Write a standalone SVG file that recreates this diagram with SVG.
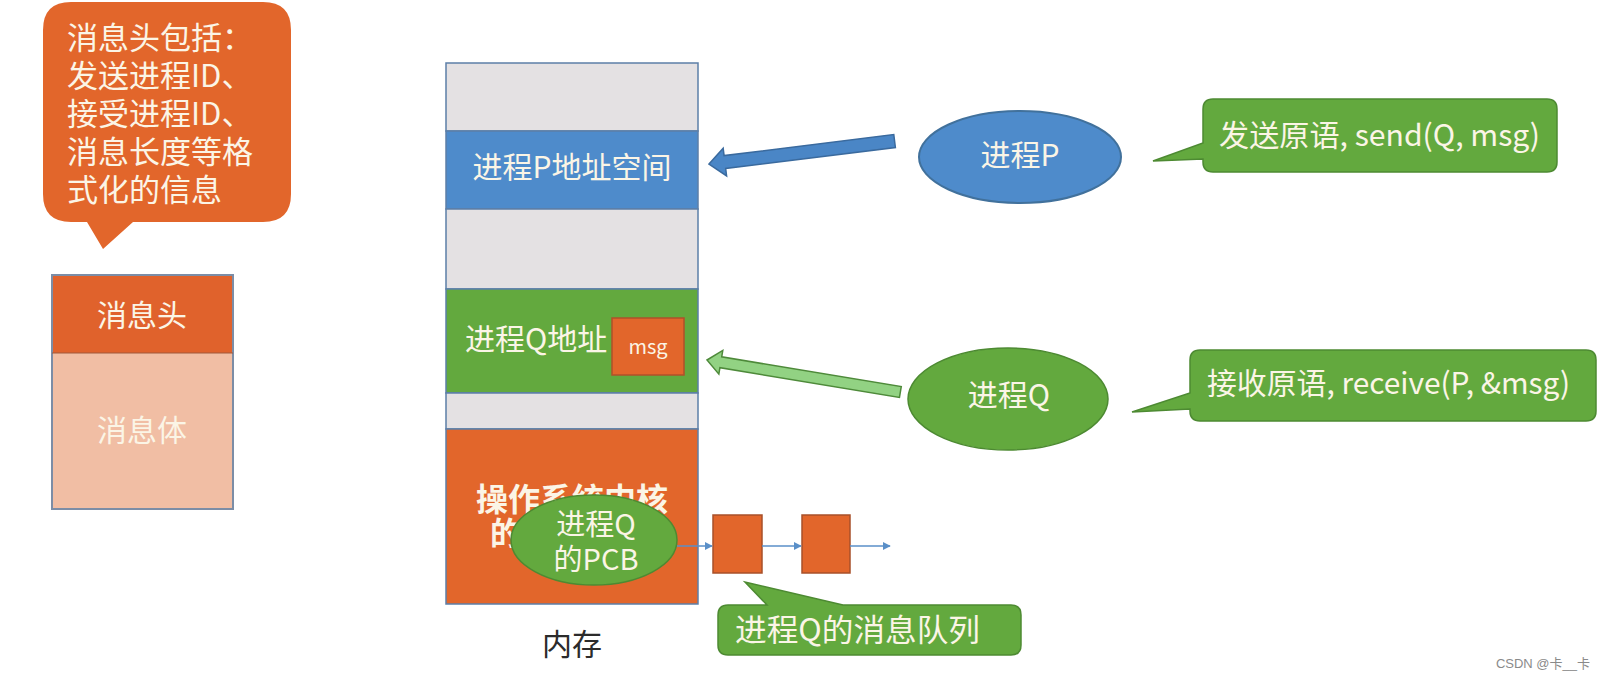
<svg xmlns="http://www.w3.org/2000/svg" width="1604" height="679" viewBox="0 0 1604 679">
<defs>
<style>
text{font-family:"Noto Sans CJK SC","Noto Sans",sans-serif;}
.w{fill:#FBF5E6;}
.k{fill:#2b2b2b;}
.orange{fill:#E2662B;}
.green{fill:#63A93E;stroke:#4D8A32;stroke-width:1.5;}
.gray{fill:#E4E1E3;}
.sec{stroke:#5C7FA8;stroke-width:1.5;}
.q{stroke:#5A8FC8;stroke-width:1.5;fill:none;}
</style>
<marker id="ah" viewBox="0 0 10 10" refX="9" refY="5" markerWidth="8" markerHeight="8" markerUnits="userSpaceOnUse" orient="auto">
<path d="M0,0 L10,5 L0,10 Z" fill="#5A8FC8"/>
</marker>
</defs>
<rect width="1604" height="679" fill="#ffffff"/>

<g id="header-callout">
<path d="M71,2 H263 Q291,2 291,30 V194 Q291,222 263,222 H133 L103,249 L87,222 H71 Q43,222 43,194 V30 Q43,2 71,2 Z" class="orange"/>
<text class="w" x="67" y="49" font-size="31">消息头包括：</text>
<text class="w" x="67" y="87" font-size="31">发送进程ID、</text>
<text class="w" x="67" y="125" font-size="31">接受进程ID、</text>
<text class="w" x="67" y="163" font-size="31">消息长度等格</text>
<text class="w" x="67" y="201" font-size="31">式化的信息</text>
</g>

<g id="message">
<rect x="52" y="275" width="181" height="78" fill="#E0622C"/>
<rect x="52" y="353" width="181" height="156" fill="#F1BEA4"/>
<rect x="52" y="275" width="181" height="234" fill="none" stroke="#7C8DA6" stroke-width="2"/>
<line x1="52" y1="353" x2="233" y2="353" stroke="#A0593A" stroke-width="1"/>
<text class="w" x="142" y="326" font-size="30" text-anchor="middle">消息头</text>
<text class="w" x="142" y="441" font-size="30" text-anchor="middle">消息体</text>
</g>

<g id="memory">
<rect x="446" y="63" width="252" height="68" class="gray sec"/>
<rect x="446" y="131" width="252" height="78" fill="#4E8BCB" class="sec"/>
<rect x="446" y="209" width="252" height="80" class="gray sec"/>
<rect x="446" y="289" width="252" height="104" fill="#63A93E" class="sec"/>
<rect x="446" y="393" width="252" height="36" class="gray sec"/>
<rect x="446" y="429" width="252" height="175" fill="#E2662B" class="sec"/>
<text class="w" x="572" y="178" font-size="30" text-anchor="middle">进程P地址空间</text>
<text class="w" x="465" y="350" font-size="30">进程Q地址</text>
<text class="w" x="572" y="511" font-size="32" font-weight="bold" text-anchor="middle">操作系统内核</text>
<text class="w" x="490" y="545" font-size="32" font-weight="bold">的</text>
<text class="k" x="572" y="655" font-size="30" text-anchor="middle">内存</text>
</g>

<g id="msg">
<rect x="612" y="318" width="72" height="57" fill="#E2662B" stroke="#B0502A" stroke-width="1.5"/>
<text class="w" x="648" y="354" font-size="20" text-anchor="middle">msg</text>
</g>

<g id="pcb">
<ellipse cx="594" cy="540" rx="83" ry="45" class="green" stroke-width="2"/>
<text class="w" x="596" y="535" font-size="29" text-anchor="middle">进程Q</text>
<text class="w" x="596" y="570" font-size="29" text-anchor="middle">的PCB</text>
</g>

<g id="queue">
<rect x="713" y="515" width="49" height="58" fill="#E2662B" stroke="#A8502A" stroke-width="1.5"/>
<rect x="802" y="515" width="48" height="58" fill="#E2662B" stroke="#A8502A" stroke-width="1.5"/>
</g>

<g id="process-p">
<ellipse cx="1020" cy="157" rx="101" ry="46" fill="#4E8BCB" stroke="#41719C" stroke-width="2"/>
<text class="w" x="1020" y="166" font-size="30" text-anchor="middle">进程P</text>
</g>

<g id="process-q">
<ellipse cx="1008" cy="399" rx="100" ry="51" class="green" stroke-width="2"/>
<text class="w" x="1009" y="406" font-size="30" text-anchor="middle">进程Q</text>
</g>

<g id="send-callout">
<path d="M1213,99 H1547 Q1557,99 1557,109 V162 Q1557,172 1547,172 H1213 Q1203,172 1203,162 V159 L1153,161 L1203,143 V109 Q1203,99 1213,99 Z" class="green"/>
<text class="w" x="1219" y="146" font-size="30" textLength="321" lengthAdjust="spacingAndGlyphs">发送原语, send(Q, msg)</text>
</g>

<g id="receive-callout">
<path d="M1200,350 H1586 Q1596,350 1596,360 V411 Q1596,421 1586,421 H1200 Q1190,421 1190,411 V409 L1132,412 L1190,393 V360 Q1190,350 1200,350 Z" class="green"/>
<text class="w" x="1207" y="394" font-size="30" textLength="363" lengthAdjust="spacingAndGlyphs">接收原语, receive(P, &amp;msg)</text>
</g>

<g id="queue-callout">
<path d="M728,605 H767 L745,582 L843,605 H1011 Q1021,605 1021,615 V645 Q1021,655 1011,655 H728 Q718,655 718,645 V615 Q718,605 728,605 Z" class="green"/>
<text class="w" x="735" y="641" font-size="31" textLength="245" lengthAdjust="spacingAndGlyphs">进程Q的消息队列</text>
</g>

<g id="connectors">
<polygon transform="translate(709,164) rotate(-7.05)" points="0,0 16,-14 16,-6.5 187,-6.5 187,6.5 16,6.5 16,14" fill="#4A86C6" stroke="#3A6A9E" stroke-width="1.5"/>
<polygon transform="translate(707,360) rotate(9.41)" points="0,0 14,-12 14,-5.5 196,-5.5 196,5.5 14,5.5 14,12" fill="#92D283" stroke="#4E8A3A" stroke-width="1.5"/>
<line x1="677" y1="546" x2="712" y2="546" class="q" marker-end="url(#ah)"/>
<line x1="762" y1="546" x2="801" y2="546" class="q" marker-end="url(#ah)"/>
<line x1="850" y1="546" x2="890" y2="546" class="q" marker-end="url(#ah)"/>
</g>

<text x="1590" y="668" font-size="13" fill="#8a8a8a" text-anchor="end" style="font-family:'Liberation Sans','Noto Sans CJK SC',sans-serif">CSDN @卡__卡</text>
</svg>
